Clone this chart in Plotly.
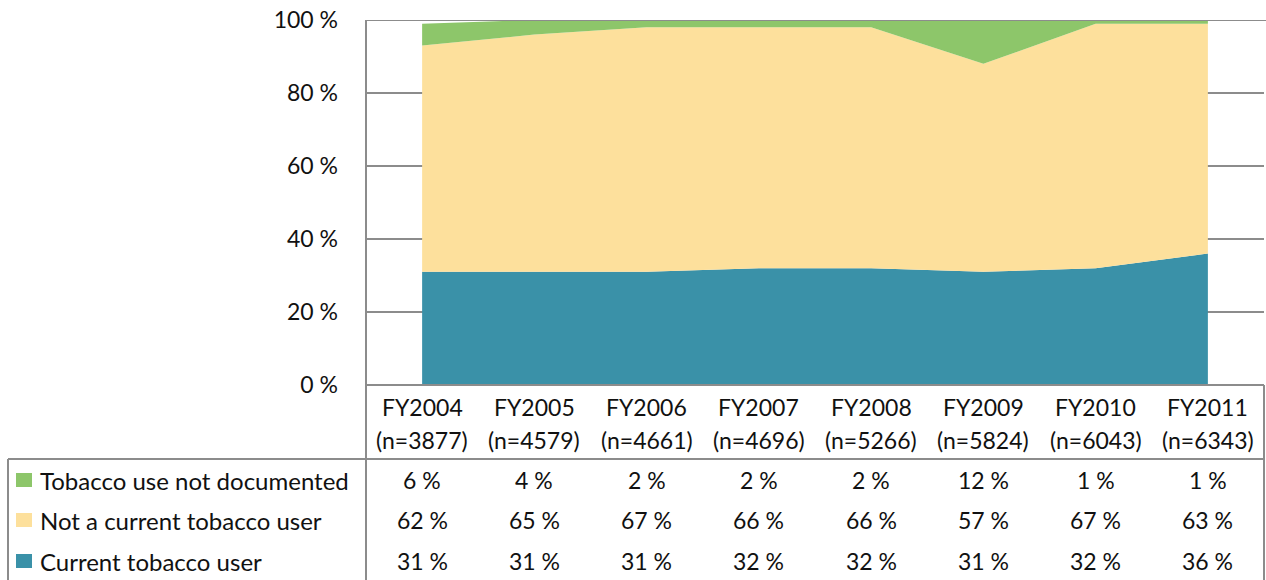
import plotly.graph_objects as go

years = ["FY2004", "FY2005", "FY2006", "FY2007", "FY2008", "FY2009", "FY2010", "FY2011"]
n_counts = [3877, 4579, 4661, 4696, 5266, 5824, 6043, 6343]
current_user = [31, 31, 31, 32, 32, 31, 32, 36]
not_current = [62, 65, 67, 66, 66, 57, 67, 63]
not_documented = [6, 4, 2, 2, 2, 12, 1, 1]
pct_ticks = [0, 20, 40, 60, 80, 100]

TEAL, YELLOW, GREEN = "#3A91A8", "#FDE09C", "#8DC66A"
GRID, TXT = "#8C8C8C", "#111111"
FONT = "Lato, Open Sans, sans-serif"
FS = 23
W, H = 1266, 580

# positions below are in window pixels (body margin is removed in post_script)
def px(x): return x / W
def py(y): return 1 - y / H

xs = list(range(len(years)))
series = [("Current tobacco user", current_user, TEAL),
          ("Not a current tobacco user", not_current, YELLOW),
          ("Tobacco use not documented", not_documented, GREEN)]

fig = go.Figure()
for name, vals, clr in series:
    fig.add_trace(go.Scatter(x=xs, y=vals, name=name, mode="lines", stackgroup="one",
                             line=dict(width=0, color=clr), fillcolor=clr, showlegend=False))

# table: header labels + values
ann = []
for i, (yr, n) in enumerate(zip(years, n_counts)):
    ann.append(dict(x=i, y=py(407), xref="x", yref="paper", text=yr))
    ann.append(dict(x=i, y=py(440), xref="x", yref="paper", text=f"(n={n})"))

rows = [(480, series[2]), (520, series[1]), (561, series[0])]
shapes = []
for yc, (name, vals, clr) in rows:
    ann.append(dict(x=px(38), y=py(yc), xref="paper", yref="paper", text=name, xanchor="left",
                    font=dict(size=24, color=TXT)))
    shapes.append(dict(type="rect", xref="paper", yref="paper", x0=px(16), x1=px(32),
                       y0=py(yc - 7), y1=py(yc + 7), fillcolor=clr, line=dict(width=0)))
    for i, v in enumerate(vals):
        ann.append(dict(x=i, y=py(yc), xref="x", yref="paper", text=f"{v} %"))
for a in ann:
    a.update(showarrow=False, yanchor="middle")
    a.setdefault("font", dict(size=FS, color=TXT))

ln = dict(color=GRID, width=2)
for x0, y0, x1, y1 in [(366, 20, 366, 590), (366, 385, 1264, 385), (8, 459, 1264, 459),
                       (8, 459, 8, 590), (1264, 385, 1264, 590)]:
    shapes.append(dict(type="line", xref="paper", yref="paper", x0=px(x0), y0=py(y0),
                       x1=px(x1), y1=py(y1), line=ln))
# top gridline sits above the filled areas
shapes.append(dict(type="line", xref="paper", yref="y", x0=px(366), x1=1, y0=100, y1=100,
                   line=ln, layer="above"))

fig.update_layout(
    width=W, height=H, autosize=False,
    margin=dict(l=0, r=0, t=0, b=0, pad=0, autoexpand=False),
    paper_bgcolor="white", plot_bgcolor="white",
    font=dict(family=FONT, size=FS, color=TXT),
    xaxis=dict(domain=[px(366), px(1264)], range=[-0.5, 7.5], showticklabels=False,
               showgrid=False, zeroline=False, fixedrange=True),
    yaxis=dict(domain=[py(385), py(20)], range=[0, 100], tickmode="array", tickvals=pct_ticks,
               ticktext=[f"{t} %" for t in pct_ticks], showgrid=True, gridcolor=GRID, gridwidth=2,
               zeroline=False, ticks="", ticklabelstandoff=27, ticklabeloverflow="allow",
               fixedrange=True, tickfont=dict(size=FS, color=TXT)),
    annotations=ann, shapes=shapes,
)
fig.write_html("out.html", config={"responsive": False, "displayModeBar": False},
               post_script="document.body.style.margin='0';")
